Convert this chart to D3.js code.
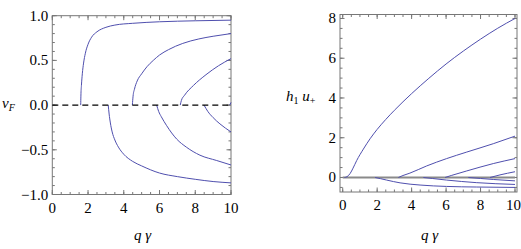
<!DOCTYPE html>
<html><head><meta charset="utf-8">
<script src="https://cdn.jsdelivr.net/npm/d3@7"></script>
</head>
<body style="margin:0;background:#fff"><svg id="c" width="521" height="249"></svg>
<script>
// ---- Data ----
const xTicks = [0, 2, 4, 6, 8, 10];
const leftYTicks = [-1.0, -0.5, 0.0, 0.5, 1.0];
const rightYTicks = [0, 2, 4, 6, 8];

// left panel: v_F branches [qγ, v_F]
const vfUp1 = [[1.59,0],[1.60,0.1],[1.63,0.22],[1.68,0.35],[1.75,0.47],[1.85,0.58],[2.0,0.68],[2.2,0.76],[2.5,0.82],[3.0,0.87],[3.5,0.895],[4.5,0.915],[6,0.932],[8,0.943],[10,0.95]];
const vfUp2 = [[4.48,0],[4.52,0.1],[4.6,0.18],[4.75,0.27],[5.0,0.35],[5.3,0.43],[5.65,0.5],[6.0,0.56],[6.5,0.62],[7.3,0.69],[8.2,0.74],[9.0,0.77],[10,0.80]];
const vfUp3 = [[7.16,0],[7.22,0.05],[7.4,0.11],[7.9,0.22],[8.6,0.34],[9.3,0.44],[10,0.52]];
const vfUp4 = [[9.93,0],[10,0.03]];
const vfDn1 = [[3.13,0],[3.18,-0.1],[3.25,-0.2],[3.35,-0.3],[3.5,-0.39],[3.7,-0.47],[4.0,-0.55],[4.5,-0.63],[5.0,-0.68],[6.0,-0.76],[7.0,-0.80],[8.0,-0.83],[9.0,-0.855],[10,-0.87]];
const vfDn2 = [[5.84,0],[5.95,-0.07],[6.1,-0.13],[6.4,-0.23],[6.96,-0.38],[7.5,-0.47],[8.26,-0.56],[9.2,-0.62],[10,-0.67]];
const vfDn3 = [[8.49,0],[8.7,-0.07],[9.0,-0.14],[9.38,-0.21],[10,-0.3]];

// right panel: h1 u+ branches
const huPos1 = [[0.1,0],[0.25,0.04],[0.43,0.2],[0.6,0.47],[0.81,0.85],[1.2,1.43],[1.59,1.95],[2.0,2.42],[2.5,2.92],[3.0,3.38],[3.5,3.81],[4.0,4.22],[5.0,4.99],[6.0,5.71],[7.0,6.36],[8.0,6.96],[9.0,7.51],[10,8.0]];
const huPos2 = [[3.23,0],[3.5,0.1],[3.9,0.22],[4.87,0.58],[6.03,0.95],[7.2,1.28],[8.74,1.7],[10,2.08]];
const huPos3 = [[5.94,0],[6.3,0.1],[7.2,0.33],[8.74,0.7],[10,0.95]];
const huPos4 = [[8.55,0],[9.13,0.13],[10,0.29]];
const huNeg1 = [[1.88,0],[2.2,-0.06],[2.55,-0.13],[3.33,-0.27],[4.49,-0.38],[6.03,-0.45],[7.78,-0.48],[10,-0.5]];
const huNeg2 = [[4.68,0],[5.2,-0.05],[6.03,-0.13],[7.78,-0.26],[10,-0.35]];
const huNeg3 = [[7.29,0],[8.0,-0.05],[8.74,-0.1],[10,-0.17]];

const lineColor = "#4f4fae";
const svg = d3.select("#c");

function txt(parent, x, y, size){
  return parent.append("text").attr("x",x).attr("y",y)
    .attr("font-family","Times New Roman")
    .style("font-family","Times New Roman").attr("font-size",size).style("fill","#000");
}

function panel(o){
  const x = d3.scaleLinear().domain(o.xd).range([o.l, o.r]);
  const y = d3.scaleLinear().domain(o.yd).range([o.b, o.t]);
  const g = svg.append("g");
  g.append("rect").attr("x",o.l).attr("y",o.t).attr("width",o.r-o.l).attr("height",o.b-o.t)
    .attr("fill","none").attr("stroke","#777").attr("stroke-width",1);
  const tick = (vals, len, orient) => {
    vals.forEach(v=>{
      if(orient==="x"){
        const px = x(v);
        if(px<o.l-0.5||px>o.r+0.5) return;
        g.append("line").attr("x1",px).attr("x2",px).attr("y1",o.b).attr("y2",o.b-len).attr("stroke","#777");
        g.append("line").attr("x1",px).attr("x2",px).attr("y1",o.t).attr("y2",o.t+len).attr("stroke","#777");
      } else {
        const py = y(v);
        if(py<o.t-0.5||py>o.b+0.5) return;
        g.append("line").attr("y1",py).attr("y2",py).attr("x1",o.l).attr("x2",o.l+len).attr("stroke","#777");
        g.append("line").attr("y1",py).attr("y2",py).attr("x1",o.r).attr("x2",o.r-len).attr("stroke","#777");
      }
    });
  };
  tick(d3.range(0, 10.01, 0.5), 2.5, "x");
  tick(xTicks, 4.5, "x");
  tick(o.yMinor, 2.5, "y");
  tick(o.yTicks, 4.5, "y");
  xTicks.forEach(v=>{
    const t = txt(g, x(v), o.b+18, 15).attr("text-anchor","middle").text(v);
    if(o.lastRight && v===10) t.attr("text-anchor","end").attr("x",521);
  });
  o.yTicks.forEach(v=>{
    txt(g, o.l-4, y(v)+5, 15).attr("text-anchor","end").text(o.fmt(v));
  });
  const xl = txt(g, (o.l+o.r)/2+1, 240, 15).attr("text-anchor","middle");
  xl.append("tspan").style("font-style","italic").text("q");
  xl.append("tspan").text(" ");
  xl.append("tspan").style("font-style","italic").text("γ");
  return {x,y,g};
}

const L = panel({l:52.3,r:231,t:15.7,b:194.5,xd:[0,10],yd:[-1,1],yTicks:leftYTicks,
  yMinor:d3.range(-1,1.001,0.1), fmt:v=> v<0 ? "\u2212"+Math.abs(v).toFixed(1) : v.toFixed(1)});
const R = panel({l:340,r:517,t:14.5,b:192,xd:[-0.157,10.116],yd:[-0.73,8.2],yTicks:rightYTicks,
  yMinor:d3.range(-0.5,8.01,0.5), fmt:v=>v, lastRight:true});

const vl = txt(svg, 2, 108, 15);
vl.append("tspan").style("font-style","italic").text("v");
vl.append("tspan").style("font-style","italic").attr("font-size",10).attr("dy",3).text("F");
const hl = txt(svg, 286, 101, 15);
hl.append("tspan").style("font-style","italic").text("h");
hl.append("tspan").attr("font-size",10).attr("dy",3).text("1");
hl.append("tspan").attr("dy",-3).text(" ");
hl.append("tspan").style("font-style","italic").text("u");
hl.append("tspan").attr("font-size",10).attr("dy",3).text("+");

function drawLines(P, series){
  const line = d3.line().x(d=>P.x(d[0])).y(d=>P.y(d[1])).curve(d3.curveMonotoneX);
  series.forEach(s=>{
    P.g.append("path").attr("d",line(s)).attr("fill","none").attr("stroke",lineColor).attr("stroke-width",1);
  });
}

drawLines(L, [vfUp1, vfUp2, vfUp3, vfUp4, vfDn1, vfDn2, vfDn3]);
L.g.append("line").attr("x1",L.x(0)).attr("x2",L.x(10)).attr("y1",L.y(0)).attr("y2",L.y(0))
  .attr("stroke","#000").attr("stroke-width",1.2).attr("stroke-dasharray","6,4");

R.g.append("line").attr("x1",R.x(0)).attr("x2",R.x(10)).attr("y1",R.y(0)).attr("y2",R.y(0))
  .attr("stroke","#8a8a8a").attr("stroke-width",2);
drawLines(R, [huPos1, huPos2, huPos3, huPos4, huNeg1, huNeg2, huNeg3]);
</script></body></html>
